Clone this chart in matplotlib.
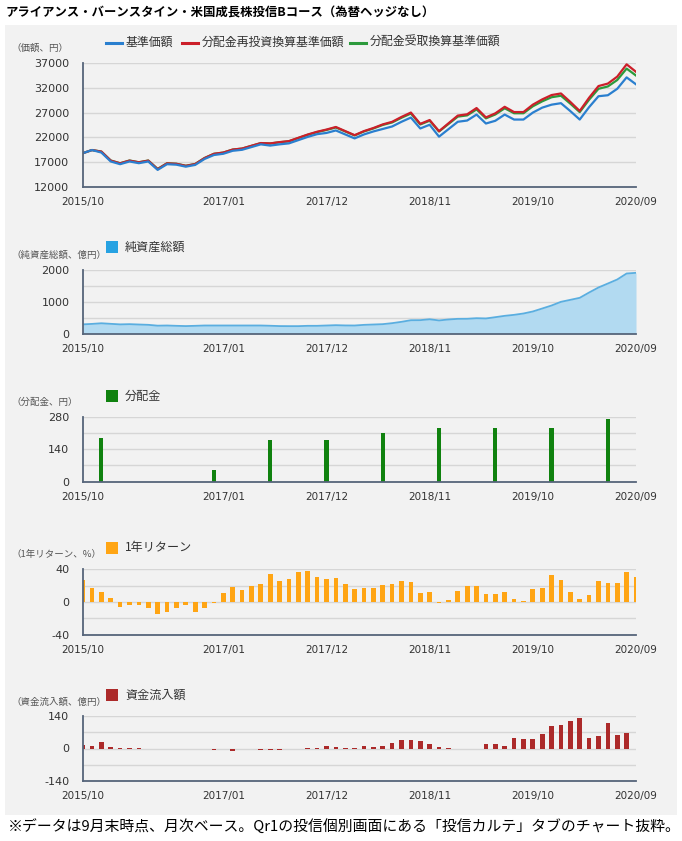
import numpy as np
import pandas as pd
import matplotlib
matplotlib.use('Agg')
import matplotlib.pyplot as plt
from matplotlib.patches import Rectangle
from matplotlib.lines import Line2D

# ---------------- data ----------------
months = list(pd.period_range('2015-10', '2020-09', freq='M').strftime('%Y/%m'))
xtick_labels = ['2015/10', '2017/01', '2017/12', '2018/11', '2019/10', '2020/09']

nav_price = [18800, 19450, 18950, 17150, 16600, 17150, 16800, 17150, 15450, 16600,
             16500, 16100, 16450, 17650, 18450, 18700, 19300, 19500, 20050, 20600,
             20350, 20600, 20800, 21450, 22100, 22650, 22900, 23400, 22600, 21800,
             22600, 23200, 23700, 24200, 25150, 26000, 23800, 24550, 22150, 23650,
             25150, 25400, 26600, 24800, 25350, 26600, 25600, 25600, 27000, 28000,
             28600, 28900, 27300, 25600, 28100, 30300, 30500, 31800, 34100, 32700]
nav_reinvest = [18800, 19450, 19140, 17320, 16770, 17320, 16970, 17320, 15600, 16770,
                16670, 16260, 16620, 17830, 18690, 18940, 19550, 19750, 20310, 20860,
                20790, 21050, 21250, 21920, 22580, 23140, 23580, 24100, 23270, 22450,
                23270, 23890, 24620, 25140, 26130, 27010, 24730, 25500, 23250, 24830,
                26400, 26660, 27920, 26030, 26850, 28170, 27110, 27110, 28600, 29660,
                30540, 30860, 29150, 27330, 30000, 32350, 32850, 34250, 36730, 35220]
nav_received = [18800, 19450, 19140, 17340, 16790, 17340, 16990, 17340, 15640, 16790,
                16690, 16290, 16640, 17840, 18690, 18940, 19540, 19740, 20290, 20840,
                20770, 21020, 21220, 21870, 22520, 23070, 23500, 24000, 23200, 22400,
                23200, 23800, 24510, 25010, 25960, 26810, 24610, 25360, 23190, 24690,
                26190, 26440, 27640, 25840, 26620, 27870, 26870, 26870, 28270, 29270,
                30100, 30400, 28800, 27100, 29600, 31800, 32270, 33570, 35870, 34470]

net_assets = [285, 300, 320, 302, 285, 292, 281, 271, 245, 250,
              240, 232, 240, 250, 250, 250, 250, 250, 250, 250,
              242, 232, 230, 230, 240, 240, 250, 260, 252, 250,
              270, 281, 292, 323, 365, 415, 417, 445, 408, 438,
              458, 460, 478, 470, 510, 552, 583, 625, 688, 781,
              875, 990, 1052, 1115, 1281, 1438, 1562, 1688, 1875, 1896]

dist_months = ['2015/12', '2016/12', '2017/06', '2017/12', '2018/06',
               '2018/12', '2019/06', '2019/12', '2020/06']
dist_values = [190, 50, 180, 180, 210, 230, 230, 230, 270]

return_1y = [27, 17.5, 11.8, 4.5, -6, -3.7, -4, -7.3, -14.7, -12.7,
             -6.9, -4.1, -11.8, -6.9, -1.6, 10.6, 18, 14.3, 20, 21.6,
             34.3, 26.1, 28.6, 36.3, 38.4, 30.2, 28.2, 29.8, 22, 15.9,
             17.5, 17.5, 20.8, 22.4, 26.1, 24.9, 10.6, 11.8, -1, 2.9,
             13.5, 20, 20, 9.4, 10.2, 12.2, 4.1, 1.2, 16.3, 17.5,
             32.6, 27.3, 11.8, 3.7, 9, 25.3, 23.3, 22.9, 36.7, 31]

fund_flow = [13, 10, 27, 7, 1, 1, 1, 0, -1, -1,
             -1, -1, 0, -1, -5, -3, -9, -2, -2, -5,
             -6, -5, -3, 0, 1, 2, 12, 5, 2, 4,
             11, 8.6, 11, 22.9, 38.6, 38.6, 32.9, 20, 7, 3,
             -1, -1, -1, 18.6, 21.4, 12.9, 44.3, 40, 40, 64.3,
             95.7, 101.4, 117, 130, 44.3, 55.7, 111, 60, 65.7, np.nan]

# ---------------- style ----------------
W, H = 682, 841
BG = '#f2f2f2'
GRID = '#d6d6d6'
AXC = '#56657a'
TXT = '#333333'
JP = ['Noto Sans CJK JP', 'DejaVu Sans']
C_BLUE = '#2a7fcf'
C_RED = '#cc1f2a'
C_GREEN = '#2c9a3c'
C_AREA_FILL = '#b2daf1'
C_AREA_LINE = '#5aaee0'
C_AREA_LEG = '#27a2e2'
C_DIST = '#10820f'
C_RET = '#ffa514'
C_FLOW = '#ac2a2a'

fig = plt.figure(figsize=(W / 100, H / 100), dpi=100)
fig.patch.set_facecolor('white')
fig.add_artist(Rectangle((5 / W, 1 - 815 / H), 672 / W, 790 / H,
                         transform=fig.transFigure, facecolor=BG, edgecolor='none', zorder=-10))

x = np.arange(len(months))
xtick_pos = [months.index(l) for l in xtick_labels]


def px_axes(left, top, right, bottom):
    return fig.add_axes([left / W, 1 - bottom / H, (right - left) / W, (bottom - top) / H])


def style_axes(ax, ylim, yticks, ylabels):
    ax.set_facecolor('none')
    ax.set_xlim(0, len(months) - 1)
    ax.set_ylim(*ylim)
    ax.set_yticks(yticks)
    ax.set_yticklabels(ylabels)
    ax.set_xticks(xtick_pos)
    ax.set_xticklabels(xtick_labels)
    for s in ['top', 'right']:
        ax.spines[s].set_visible(False)
    for s in ['left', 'bottom']:
        ax.spines[s].set_color(AXC)
        ax.spines[s].set_linewidth(1.3)
        ax.spines[s].set_zorder(6)
    ax.grid(axis='y', color=GRID, linewidth=1.0)
    ax.set_axisbelow(True)
    ax.tick_params(axis='y', length=0, pad=9.5, labelsize=8, labelcolor=TXT)
    ax.tick_params(axis='x', length=0, pad=7.5, labelsize=7.5, labelcolor=TXT)


def unit_label(text, y):
    fig.text(11 / W, 1 - y / H, text, fontsize=6.8, color='#555555', family=JP,
             ha='left', va='center')


def legend_square(color, text, y):
    fig.add_artist(Rectangle((106 / W, 1 - (y + 6) / H), 12 / W, 12 / H,
                             transform=fig.transFigure, facecolor=color, edgecolor='none'))
    fig.text(125 / W, 1 - y / H, text, fontsize=8.7, color=TXT, family=JP,
             ha='left', va='center')


def legend_line(color, text, x0, y):
    fig.add_artist(Line2D([x0 / W, (x0 + 16) / W], [1 - y / H, 1 - y / H],
                          transform=fig.transFigure, color=color, linewidth=2.2))
    fig.text((x0 + 20) / W, 1 - y / H, text, fontsize=8.6, color=TXT, family=JP,
             ha='left', va='center')


# title
fig.text(6 / W, 1 - 13 / H,
         'アライアンス・バーンスタイン・米国成長株投信Bコース（為替ヘッジなし）',
         fontsize=8.9, fontweight='bold', color='black', family=JP, ha='left', va='center')

# ---- panel 1: prices ----
ax1 = px_axes(82.6, 63, 636, 187)
style_axes(ax1, (12000, 37000), list(range(12000, 37001, 5000)),
           [str(v) for v in range(12000, 37001, 5000)])
ax1.plot(x, nav_received, color=C_GREEN, lw=1.6, zorder=3)
ax1.plot(x, nav_reinvest, color=C_RED, lw=1.6, zorder=4)
ax1.plot(x, nav_price, color=C_BLUE, lw=1.6, zorder=5)
unit_label('（価額、円）', 48)
legend_line(C_BLUE, '基準価額', 106, 42.5)
legend_line(C_RED, '分配金再投資換算基準価額', 182, 42.5)
legend_line(C_GREEN, '分配金受取換算基準価額', 350, 42.5)

# ---- panel 2: net assets ----
ax2 = px_axes(82.6, 269.5, 636, 333.5)
style_axes(ax2, (0, 2000), [0, 500, 1000, 1500, 2000], ['0', '', '1000', '', '2000'])
ax2.fill_between(x, net_assets, 0, color=C_AREA_FILL, linewidth=0, zorder=3)
ax2.plot(x, net_assets, color=C_AREA_LINE, lw=1.3, zorder=4)
unit_label('（純資産総額、億円）', 255)
legend_square(C_AREA_LEG, '純資産総額', 247)

# ---- panel 3: distributions ----
ax3 = px_axes(82.6, 416.7, 636, 481.5)
style_axes(ax3, (0, 280), [0, 70, 140, 210, 280], ['0', '', '140', '', '280'])
dist_x = [months.index(m) for m in dist_months]
ax3.bar(dist_x, dist_values, width=0.45, color=C_DIST, zorder=3)
unit_label('（分配金、円）', 402)
legend_square(C_DIST, '分配金', 396)

# ---- panel 4: 1-year return ----
ax4 = px_axes(82.6, 569.3, 636, 634.7)
style_axes(ax4, (-40, 40), [-40, -20, 0, 20, 40], ['-40', '', '0', '', '40'])
ax4.bar(x, return_1y, width=0.5, color=C_RET, zorder=3)
unit_label('（1年リターン、%）', 554)
legend_square(C_RET, '1年リターン', 548)

# ---- panel 5: fund flows ----
ax5 = px_axes(82.6, 716, 636, 781)
style_axes(ax5, (-140, 140), [-140, -70, 0, 70, 140], ['-140', '', '0', '', '140'])
ax5.bar(x, fund_flow, width=0.5, color=C_FLOW, zorder=3)
unit_label('（資金流入額、億円）', 702)
legend_square(C_FLOW, '資金流入額', 695)

# footer
fig.text(8 / W, 1 - 827 / H,
         '※データは9月末時点、月次ベース。Qr1の投信個別画面にある「投信カルテ」タブのチャート抜粋。',
         fontsize=10.7, color='black', family=JP, ha='left', va='center')

fig.savefig('out.png', dpi=100, facecolor='white')
